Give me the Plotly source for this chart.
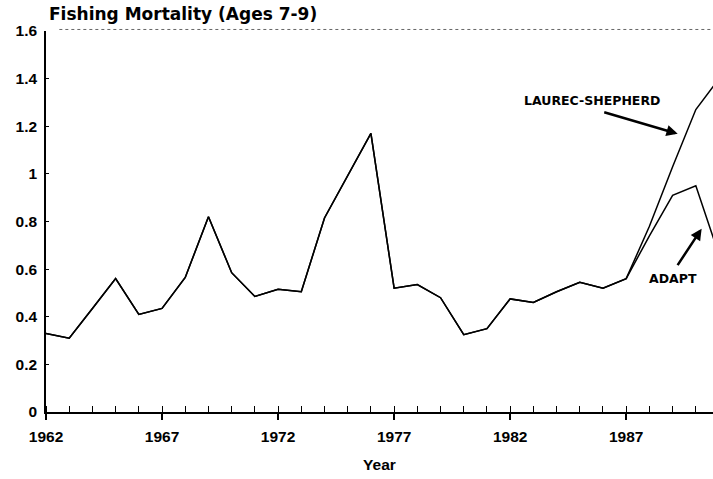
import plotly.graph_objects as go

years = list(range(1962, 1992))
common = [0.33, 0.31, 0.435, 0.56, 0.41, 0.435, 0.565, 0.82, 0.585, 0.485,
          0.515, 0.505, 0.815, 0.99, 1.17, 0.52, 0.535, 0.48, 0.325, 0.35,
          0.475, 0.46, 0.505, 0.545, 0.52, 0.56]
laurec_tail = [0.78, 1.03, 1.27, 1.40]
adapt_tail = [0.74, 0.91, 0.95, 0.66]
laurec = common + laurec_tail
adapt = common + adapt_tail

x_ticks = [1962, 1967, 1972, 1977, 1982, 1987]
y_ticks = [0, 0.2, 0.4, 0.6, 0.8, 1, 1.2, 1.4, 1.6]

fig = go.Figure()
fig.add_trace(go.Scatter(x=years, y=adapt, mode="lines", name="ADAPT",
                         line=dict(color="black", width=1.5)))
fig.add_trace(go.Scatter(x=years, y=laurec, mode="lines", name="LAUREC-SHEPHERD",
                         line=dict(color="black", width=1.5)))

tickfont = dict(family="Liberation Sans, Arial, sans-serif", size=15.5, color="black", weight=700)
lblfont = dict(family="DejaVu Sans, sans-serif", size=12.5, color="black", weight=700)

fig.update_layout(
    width=713, height=479,
    margin=dict(l=46, r=0, t=31, b=67),
    paper_bgcolor="white", plot_bgcolor="white",
    showlegend=False,
    xaxis=dict(range=[1962, 1990.74], tickvals=x_ticks, ticktext=[str(v) for v in x_ticks],
               showgrid=False, zeroline=False, showline=True, linecolor="black", linewidth=1.5,
               ticks="outside", ticklen=6, tickwidth=1.5, tickcolor="black",
               minor=dict(dtick=1, tick0=1962, ticks="inside", ticklen=6, tickwidth=1.2,
                          tickcolor="black", showgrid=False),
               tickfont=tickfont, ticklabelstandoff=4,
               title=dict(text="Year", font=dict(family="Liberation Sans, Arial, sans-serif",
                                                 size=15.5, color="black", weight=700),
                          standoff=15)),
    yaxis=dict(range=[0, 1.6], tickvals=y_ticks, showgrid=False, zeroline=False,
               showline=True, linecolor="black", linewidth=1.5,
               ticks="inside", ticklen=3, tickcolor="black", tickwidth=1,
               tickfont=tickfont, ticklabelstandoff=4),
)

# chart title (placed as paper annotation, centred for exact positioning)
fig.add_annotation(text="Fishing Mortality (Ages 7-9)", xref="paper", yref="paper",
                   x=(183 - 46) / 667, y=1 + (31 - 14) / 381, xanchor="center",
                   yanchor="middle", showarrow=False,
                   font=dict(family="DejaVu Sans, sans-serif", size=17,
                             color="black", weight=700))

# faint dotted top border as in the scan
fig.add_shape(type="line", xref="paper", yref="paper", x0=0.02, x1=1, y0=1.004, y1=1.004,
              line=dict(color="#666666", width=1, dash="dot"))

# annotations with arrows
fig.add_annotation(x=1989.22, y=1.168, xref="x", yref="y", ax=-75, ay=-22,
                   text="", showarrow=True, arrowhead=2, arrowsize=0.9,
                   arrowwidth=2.5, arrowcolor="black")
fig.add_annotation(x=(592.5 - 46) / 23.21 + 1962, y=(412 - 101) / 238, xref="x", yref="y",
                   text="LAUREC-SHEPHERD",
                   showarrow=False, xanchor="center", yanchor="middle", font=lblfont)
fig.add_annotation(x=1990.25, y=0.77, xref="x", yref="y", ax=-25, ay=38,
                   text="", showarrow=True, arrowhead=2, arrowsize=0.9,
                   arrowwidth=2.5, arrowcolor="black")
fig.add_annotation(x=(673 - 46) / 23.21 + 1962, y=(412 - 279) / 238, xref="x", yref="y",
                   text="ADAPT",
                   showarrow=False, xanchor="center", yanchor="middle", font=lblfont)

fig.write_html("out.html", config={"displayModeBar": False},
               post_script="document.body.style.margin='0px';")
